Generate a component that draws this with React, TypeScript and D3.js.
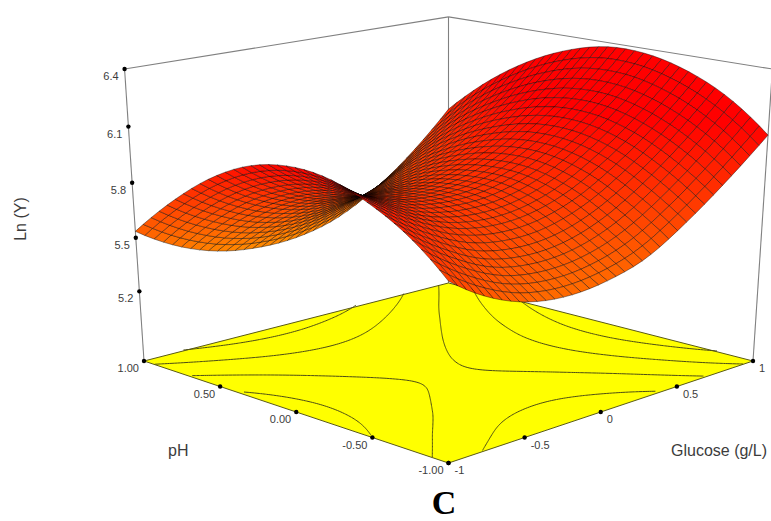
import React from 'react';
import * as d3 from 'd3';

// axis ticks
const zTicks = [5.2, 5.5, 5.8, 6.1, 6.4];
const phTicks = [1, 0.5, 0, -0.5, -1];
const glucoseTicks = [-1, -0.5, 0, 0.5, 1];
const contourLevels = [5.4, 5.6, 5.8, 6.0, 6.2];

// Ln(Y), at these glucose (columns) and pH (rows) values
const glucoseNodes = [-1, -0.75, -0.5, -0.25, 0, 0.25, 0.5, 0.75, 1];
const phNodes = [1, 0.75, 0.5, 0.25, 0, -0.25, -0.5, -0.75, -1];
const lnY = [
  [5.535, 5.401, 5.318, 5.284, 5.29, 5.345, 5.465, 5.64, 5.865],
  [5.745, 5.61, 5.52, 5.483, 5.499, 5.565, 5.682, 5.848, 6.064],
  [5.915, 5.77, 5.675, 5.635, 5.648, 5.714, 5.83, 5.997, 6.213],
  [6.03, 5.875, 5.775, 5.735, 5.746, 5.812, 5.929, 6.1, 6.315],
  [6.08, 5.925, 5.825, 5.785, 5.795, 5.861, 5.985, 6.155, 6.37],
  [6.07, 5.92, 5.825, 5.785, 5.794, 5.86, 5.985, 6.155, 6.365],
  [6.0, 5.865, 5.765, 5.72, 5.73, 5.8, 5.93, 6.1, 6.31],
  [5.89, 5.745, 5.64, 5.6, 5.615, 5.69, 5.825, 6.0, 6.21],
  [5.725, 5.585, 5.5, 5.47, 5.49, 5.555, 5.69, 5.86, 6.055],
];

const WIDTH = 771;
const HEIGHT = 521;
const MESH = 36; // cells per side

const zNorm = d3.scaleLinear().domain([4.8, 6.4]).range([0, 1]);
const colorScale = d3.scaleLinear<string>().domain([5.28, 6.1]).range(['#ff8c00', '#ff0000']).clamp(true);

// floor diamond + perspective
const project = (g: number, p: number, lnValue: number): [number, number] => {
  const s = (g - p) / 2;
  const t = (g + p) / 2;
  const z = zNorm(lnValue);
  const w = 1 + 0.1333 * t - 0.06 * z;
  const wx = 1 + 0.03 * t - 0.06 * z;
  return [448.5 + (304.5 * s) / wx, (361 - 40.3 * t - 296.1 * z - 6.5 * t * z) / w];
};
const depth = (g: number, p: number, lnValue: number) => 1 + 0.1333 * ((g + p) / 2) - 0.06 * zNorm(lnValue);

// smooth lookup in the table, between the read nodes
const catmull = (v: number[], x: number) => {
  const n = v.length;
  const pos = Math.min(Math.max(x, 0), n - 1);
  const i = Math.min(Math.floor(pos), n - 2);
  const f = pos - i;
  const a = i > 0 ? v[i - 1] : 3 * v[0] - 3 * v[1] + v[2];
  const b = v[i];
  const c = v[i + 1];
  const d = i < n - 2 ? v[i + 2] : 3 * v[n - 1] - 3 * v[n - 2] + v[n - 3];
  return 0.5 * (2 * b + (c - a) * f + (2 * a - 5 * b + 4 * c - d) * f * f + (3 * b - a - 3 * c + d) * f * f * f);
};
const gIndex = d3.scaleLinear().domain(d3.extent(glucoseNodes) as [number, number]).range([0, glucoseNodes.length - 1]);
const pIndex = d3.scaleLinear().domain([1, -1]).range([0, phNodes.length - 1]);
const lookup = (g: number, p: number) => {
  const column = lnY.map((row) => catmull(row, gIndex(g)));
  return catmull(column, pIndex(p));
};

const Surface = () => {
  const step = d3.scaleLinear().domain([0, MESH]).range([-1, 1]);
  const cells: { d: string; fill: string; depth: number }[] = [];
  for (let i = 0; i < MESH; i++) {
    for (let j = 0; j < MESH; j++) {
      const corners = [[i, j], [i + 1, j], [i + 1, j + 1], [i, j + 1]].map(([a, b]) => {
        const g = step(a);
        const p = step(b);
        return { g, p, v: lookup(g, p) };
      });
      const midV = d3.mean(corners, (c) => c.v) as number;
      const midG = step(i + 0.5);
      const midP = step(j + 0.5);
      cells.push({
        d: d3.line()(corners.map((c) => project(c.g, c.p, c.v))) + 'Z',
        fill: colorScale(midV),
        depth: depth(midG, midP, midV),
      });
    }
  }
  cells.sort((a, b) => b.depth - a.depth);
  return (
    <g>
      {cells.map((c, i) => (
        <path key={i} d={c.d} fill={c.fill} stroke="#000" strokeOpacity={0.5} strokeWidth={0.8} strokeLinejoin="round" />
      ))}
    </g>
  );
};

const FloorContours = () => {
  const n = 161;
  const gAt = d3.scaleLinear().domain([0.5, n - 0.5]).range([-1, 1]);
  const pAt = d3.scaleLinear().domain([0.5, n - 0.5]).range([1, -1]);
  const values: number[] = [];
  for (let y = 0; y < n; y++) {
    for (let x = 0; x < n; x++) values.push(lookup(gAt(x + 0.5), pAt(y + 0.5)));
  }
  const polys = d3.contours().size([n, n]).thresholds(contourLevels)(values);
  const floor = zNorm.invert(0);
  const line = d3.line();
  const paths: string[] = [];
  polys.forEach((poly) => {
    poly.coordinates.forEach((rings) => {
      rings.forEach((ring) => {
        // keep the isoline only, not the part of the ring along the plot edge
        let run: [number, number][] = [];
        ring.forEach(([x, y]) => {
          if (x <= 0 || y <= 0 || x >= n || y >= n) {
            if (run.length > 1) paths.push(line(run) as string);
            run = [];
          } else {
            run.push(project(gAt(x), pAt(y), floor));
          }
        });
        if (run.length > 1) paths.push(line(run) as string);
      });
    });
  });
  return (
    <g fill="none" stroke="#4d4d14" strokeWidth={1}>
      {paths.map((d, i) => <path key={i} d={d} />)}
    </g>
  );
};

export default function App() {
  const floor = zNorm.invert(0);
  const left = project(-1, 1, floor);
  const back = project(1, 1, floor);
  const right = project(1, -1, floor);
  const front = project(-1, -1, floor);
  const leftTop = project(-1, 1, 6.4);
  const backTop = project(1, 1, 6.4);
  const rightTop = project(1, -1, 6.4);

  const zTickPos = (v: number) => project(-1, 1, v);
  const phX = d3.scaleLinear().domain([1, -1]).range([left[0], front[0]]);
  const phY = d3.scaleLinear().domain([1, -1]).range([left[1], front[1]]);
  const gluX = d3.scaleLinear().domain([-1, 1]).range([front[0], right[0]]);
  const gluY = d3.scaleLinear().domain([-1, 1]).range([front[1], right[1]]);

  const frame = [
    [left, leftTop],
    [leftTop, backTop],
    [backTop, rightTop],
    [rightTop, right],
    [back, backTop],
  ] as [number, number][][];
  const labelStyle = { fontFamily: '"Liberation Sans", Arial, sans-serif', fill: '#3c3c3c' };

  return (
    <svg width={WIDTH} height={HEIGHT} style={{ position: 'absolute', left: 0, top: 0, background: '#fff' }}>
      <g stroke="#808080" strokeWidth={1.1} fill="none">
        {frame.map((seg, i) => <path key={i} d={d3.line()(seg) as string} />)}
      </g>
      <path d={d3.line()([left, back, right, front]) + 'Z'} fill="#ffff00" stroke="#5a5a14" strokeWidth={1} />
      <FloorContours />
      <Surface />

      {zTicks.map((v) => {
        const [x, y] = zTickPos(v);
        return (
          <g key={v}>
            <circle cx={x} cy={y} r={2.2} fill="#000" />
            <text x={x - 6} y={y + 11} textAnchor="end" fontSize={11} style={labelStyle}>{v.toFixed(1)}</text>
          </g>
        );
      })}
      {phTicks.map((v) => (
        <g key={v}>
          <circle cx={phX(v)} cy={phY(v)} r={2.2} fill="#000" />
          <text x={phX(v) - 5} y={phY(v) + 11} textAnchor="end" fontSize={11} style={labelStyle}>{v.toFixed(2)}</text>
        </g>
      ))}
      {glucoseTicks.map((v) => (
        <g key={v}>
          <circle cx={gluX(v)} cy={gluY(v)} r={2.2} fill="#000" />
          <text x={gluX(v) + 6} y={gluY(v) + 11} fontSize={11} style={labelStyle}>{String(v)}</text>
        </g>
      ))}

      <text transform="translate(26,219) rotate(-90)" textAnchor="middle" fontSize={16} style={labelStyle}>Ln (Y)</text>
      <text x={168} y={456} fontSize={16} style={labelStyle}>pH</text>
      <text x={671} y={456} fontSize={16} style={labelStyle}>Glucose (g/L)</text>
      <text x={444} y={514} textAnchor="middle" fontSize={34} fontWeight="bold" fontFamily='"Liberation Serif", serif' fill="#000">C</text>
    </svg>
  );
}
